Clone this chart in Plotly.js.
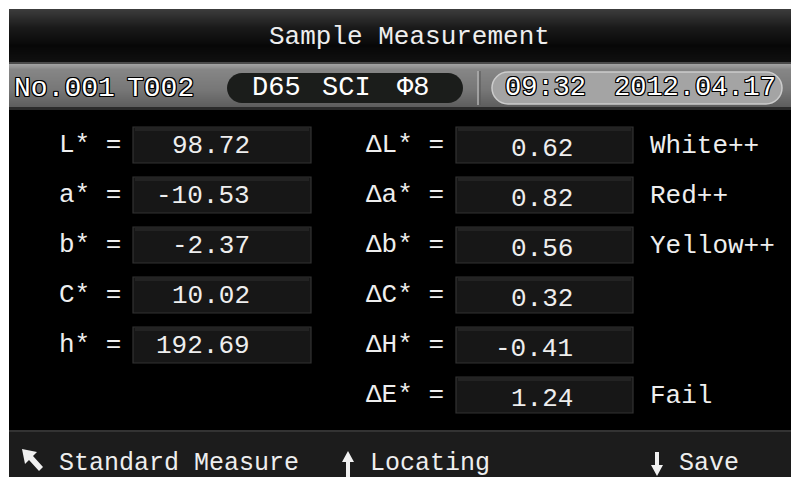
<!DOCTYPE html>
<html>
<head>
<meta charset="utf-8">
<script src="https://cdn.plot.ly/plotly-3.0.1.min.js"></script>
<style>html,body{margin:0;padding:0;background:#fff;}#chart{width:791px;height:477px;}</style>
</head>
<body>
<div id="chart"></div>
<script>
// ---- data ----
const screenTitle = "Sample Measurement";
const recordInfo = ["No.001", "T002"];
const conditions = ["D65", "SCI", "Φ8"];
const timeStamp = ["09:32", "2012.04.17"];
const leftLabels = ["L* =", "a* =", "b* =", "C* =", "h* ="];
const leftValues = [98.72, -10.53, -2.37, 10.02, 192.69];
const rightLabels = ["ΔL* =", "Δa* =", "Δb* =", "ΔC* =", "ΔH* =", "ΔE* ="];
const rightValues = [0.62, 0.82, 0.56, 0.32, -0.41, 1.24];
const assessments = ["White++", "Red++", "Yellow++", "", "", "Fail"];
const softKeys = ["Standard Measure", "Locating", "Save"];

// ---- styling / layout ----
const FONT = "Liberation Mono, DejaVu Sans Mono, monospace";
const FS = 26;
const shapes = [];
const ann = [];

function hex(c){return [parseInt(c.slice(1,3),16),parseInt(c.slice(3,5),16),parseInt(c.slice(5,7),16)];}
function mix(a,b,t){const A=hex(a),B=hex(b);return "rgb("+A.map((v,i)=>Math.round(v+(B[i]-v)*t)).join(",")+")";}
function grad(y0,y1,stops,x0,x1){
  const n = Math.round(y1-y0);
  for(let i=0;i<n;i++){
    const p=i/(n-1||1);
    let k=0; while(k<stops.length-2 && p>stops[k+1][0]) k++;
    const s0=stops[k],s1=stops[k+1];
    const t=(p-s0[0])/((s1[0]-s0[0])||1);
    shapes.push({type:"rect",xref:"x",yref:"y",x0:x0,x1:x1,y0:y0+i,y1:y0+i+1.05,fillcolor:mix(s0[1],s1[1],Math.max(0,Math.min(1,t))),line:{width:0},layer:"below"});
  }
}
function pill(x0,x1,y0,y1,fill,lineColor,lw){
  const r=(y1-y0)/2, k=0.5523*r, ym=(y0+y1)/2;
  const p=`M ${x0+r},${y0} L ${x1-r},${y0} C ${x1-r+k},${y0} ${x1},${ym-k} ${x1},${ym} C ${x1},${ym+k} ${x1-r+k},${y1} ${x1-r},${y1} L ${x0+r},${y1} C ${x0+r-k},${y1} ${x0},${ym+k} ${x0},${ym} C ${x0},${ym-k} ${x0+r-k},${y0} ${x0+r},${y0} Z`;
  shapes.push({type:"path",xref:"x",yref:"y",path:p,fillcolor:fill,line:{color:lineColor||fill,width:lw||0}});
}
function txt(s,x,y,anchor,opts){
  opts=opts||{};
  ann.push({text:s,x:x,y:y,xref:"x",yref:"y",xanchor:anchor||"center",yanchor:"middle",showarrow:false,
    font:Object.assign({family:FONT,size:opts.size||FS,color:opts.color||"#eeeeee"},opts.shadow?{shadow:opts.shadow}:{})});
}

// screen background
shapes.push({type:"rect",xref:"x",yref:"y",x0:9,x1:791,y0:9,y1:477,fillcolor:"#000000",line:{width:0},layer:"below"});
// title bar gradient
grad(9,62,[[0,"#3c3c3c"],[0.35,"#1a1a1a"],[0.7,"#070707"],[1,"#101010"]],9,791);
shapes.push({type:"rect",xref:"x",yref:"y",x0:9,x1:791,y0:62,y1:64,fillcolor:"#4a4a4a",line:{width:0},layer:"below"});
// status bar gradient
grad(64,107,[[0,"#a0a0a0"],[0.12,"#868686"],[0.6,"#777777"],[1,"#5e5e5e"]],9,791);
shapes.push({type:"rect",xref:"x",yref:"y",x0:9,x1:791,y0:107,y1:110,fillcolor:"#2a2a2a",line:{width:0},layer:"below"});
// bottom bar
shapes.push({type:"rect",xref:"x",yref:"y",x0:9,x1:791,y0:431,y1:477,fillcolor:"#1c1c1c",line:{width:0},layer:"below"});
shapes.push({type:"rect",xref:"x",yref:"y",x0:9,x1:791,y0:430,y1:432,fillcolor:"#333333",line:{width:0},layer:"below"});

// status bar pills and separator
pill(227,463,73,103,"#1b1d1b");
shapes.push({type:"line",xref:"x",yref:"y",x0:478,x1:478,y0:71,y1:105,line:{color:"#b0b0b0",width:1.5}});
shapes.push({type:"line",xref:"x",yref:"y",x0:480,x1:480,y0:71,y1:105,line:{color:"#555555",width:1}});
pill(492,782,72,104,"#a4a4a4","#cccccc",1.5);

// title
txt(screenTitle,409,37,"center",{size:FS});

const outline = "-1px -1px 0 #000, 1px -1px 0 #000, -1px 1px 0 #000, 1px 1px 0 #000, 0 1px 0 #000, 1px 0 0 #000, 0 -1px 0 #000, -1px 0 0 #000";
txt(recordInfo[0],12,88,"left",{size:28,color:"#ffffff",shadow:outline});
txt(recordInfo[1],125,88,"left",{size:28,color:"#ffffff",shadow:outline});
const condX=[250,320,395];
conditions.forEach((c,i)=>txt(c,condX[i],88,"left",{size:27,color:"#ffffff"}));
txt(timeStamp[0],503,88,"left",{size:27,color:"#ffffff",shadow:outline});
txt(timeStamp[1],612,88,"left",{size:27,color:"#ffffff",shadow:outline});

// measurement rows
const ROW0=145, PITCH=50, BH=36;
function valBox(x0,x1,yc){
  shapes.push({type:"rect",xref:"x",yref:"y",x0:x0,x1:x1,y0:yc-BH/2,y1:yc+BH/2,fillcolor:"#171717",line:{color:"#333333",width:1.2}});
  shapes.push({type:"rect",xref:"x",yref:"y",x0:x0+2,x1:x1-2,y0:yc-BH/2+1,y1:yc-BH/2+4,fillcolor:"#232323",line:{width:0}});
}
function fmt(v){return v.toFixed(2);}
leftLabels.forEach((lab,i)=>{
  const yc=ROW0+i*PITCH;
  valBox(133,311,yc);
  txt(lab,123,yc,"right");
  txt(fmt(leftValues[i]),252,yc+1,"right");
});
rightLabels.forEach((lab,i)=>{
  const yc=ROW0+i*PITCH;
  valBox(456,633,yc);
  txt(lab,446,yc,"right");
  txt(fmt(rightValues[i]),575,yc+4,"right");
  if(assessments[i]) txt(assessments[i],648,yc+1,"left");
});

// soft-key bar
txt(softKeys[0],57,463,"left",{size:25});
txt(softKeys[1],368,463,"left",{size:25});
txt(softKeys[2],677,463,"left",{size:25});
// arrow icons
shapes.push({type:"path",xref:"x",yref:"y",path:"M 22,449 L 37,452 L 33,456 L 43,467 L 39,471 L 29,460 L 25,464 Z",fillcolor:"#f0f0f0",line:{width:0}});
shapes.push({type:"path",xref:"x",yref:"y",path:"M 348,451 L 354,462 L 350,462 L 350,477 L 346,477 L 346,462 L 342,462 Z",fillcolor:"#f0f0f0",line:{width:0}});
shapes.push({type:"path",xref:"x",yref:"y",path:"M 655,452 L 659,452 L 659,465 L 663,465 L 657,476 L 651,465 L 655,465 Z",fillcolor:"#f0f0f0",line:{width:0}});

const data=[{type:"scatter",x:[0,791],y:[0,477],mode:"markers",marker:{opacity:0},hoverinfo:"skip",showlegend:false}];
const layout={
  width:791,height:477,margin:{l:0,r:0,t:0,b:0},
  paper_bgcolor:"#ffffff",plot_bgcolor:"#ffffff",
  xaxis:{range:[0,791],visible:false,fixedrange:true},
  yaxis:{range:[477,0],visible:false,fixedrange:true},
  shapes:shapes,annotations:ann,showlegend:false
};
Plotly.newPlot("chart",data,layout,{staticPlot:true,displayModeBar:false});
</script>
</body>
</html>
